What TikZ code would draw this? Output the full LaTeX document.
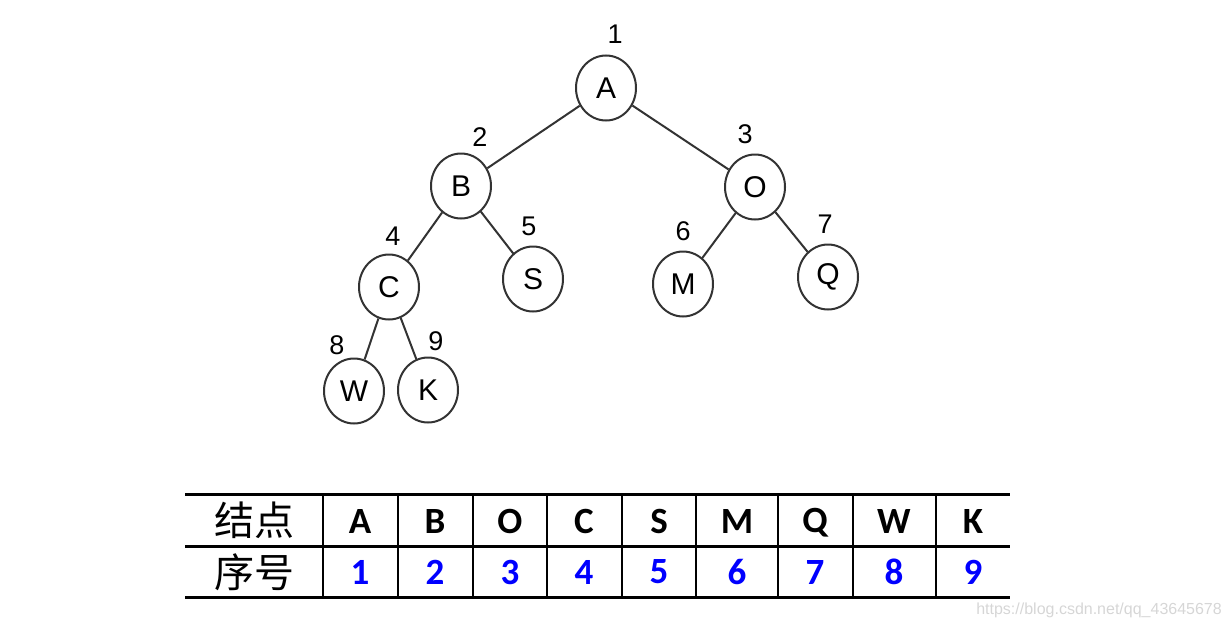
\documentclass[tikz,border=0pt]{standalone}
\usepackage{fontspec}
\setmainfont{Liberation Sans}
\newfontfamily\cjk{Noto Sans CJK SC}
\newfontfamily\tabfont{Carlito}
\usetikzlibrary{shapes.geometric}
\definecolor{edgegray}{HTML}{333333}
\definecolor{numblue}{HTML}{0000FF}
\definecolor{wmgray}{HTML}{D6D6D6}
\tikzset{
  tnode/.style={ellipse,draw=edgegray,line width=2pt,minimum width=60pt,minimum height=65pt,inner sep=0pt,font=\fontsize{30}{34}\selectfont},
  tlabel/.style={inner sep=0pt,font=\fontsize{27}{30}\selectfont},
  tedge/.style={draw=edgegray,line width=2pt},
  hdr/.style={inner sep=0pt,font=\tabfont\bfseries\fontsize{37}{40}\selectfont},
  num/.style={inner sep=0pt,text=numblue,font=\tabfont\bfseries\fontsize{37}{40}\selectfont},
  cjkcell/.style={inner sep=0pt,font=\cjk\fontsize{40}{44}\selectfont},
  hline/.style={line width=3pt,black},
  vline/.style={line width=2.5pt,black}
}
\begin{document}
\begin{tikzpicture}[x=1pt,y=-1pt]
\useasboundingbox (0,0) rectangle (1231,629);
% tree nodes
\node[tnode] (A) at (606,88) {A};
\node[tnode] (B) at (461,186) {B};
\node[tnode] (O) at (755,187) {O};
\node[tnode] (C) at (389,287) {C};
\node[tnode] (S) at (533,279) {S};
\node[tnode] (M) at (683,284) {M};
\node[tnode] (Q) at (828,277) {Q};
\node[tnode] (W) at (354,391) {W};
\node[tnode] (K) at (428,390) {K};
% labels
\node[tlabel] (l1) at (615,34) {1};
\node[tlabel] (l2) at (480,137) {2};
\node[tlabel] (l3) at (745,134) {3};
\node[tlabel] (l4) at (393,236) {4};
\node[tlabel] (l5) at (529,226) {5};
\node[tlabel] (l6) at (683,231) {6};
\node[tlabel] (l7) at (825,224) {7};
\node[tlabel] (l8) at (337,345) {8};
\node[tlabel] (l9) at (436,341) {9};
% edges
\draw[tedge] (A) -- (B);
\draw[tedge] (A) -- (O);
\draw[tedge] (B) -- (C);
\draw[tedge] (B) -- (S);
\draw[tedge] (O) -- (M);
\draw[tedge] (O) -- (Q);
\draw[tedge] (C) -- (W);
\draw[tedge] (C) -- (K);
% table lines
\draw[hline] (185,494) -- (1010,494);
\draw[hline] (185,546) -- (1010,546);
\draw[hline] (185,597) -- (1010,597);
\foreach \x in {323,398,473,547,622,696,778,853,936}
  \draw[vline] (\x,494) -- (\x,597);
% table text
\node[cjkcell] (h0) at (254,520) {结点};
\node[cjkcell] (n0) at (254,572) {序号};
\node[hdr] (hA) at (360,521) {A};
\node[hdr] (hB) at (435,521) {B};
\node[hdr] (hO) at (510,521) {O};
\node[hdr] (hC) at (584,521) {C};
\node[hdr] (hS) at (659,521) {S};
\node[hdr] (hM) at (737,521) {M};
\node[hdr] (hQ) at (815,523) {Q};
\node[hdr] (hW) at (894,521) {W};
\node[hdr] (hK) at (973,521) {K};
\node[num] (n1) at (360,572) {1};
\node[num] (n2) at (435,572) {2};
\node[num] (n3) at (510,572) {3};
\node[num] (n4) at (584,572) {4};
\node[num] (n5) at (659,572) {5};
\node[num] (n6) at (737,572) {6};
\node[num] (n7) at (815,572) {7};
\node[num] (n8) at (894,572) {8};
\node[num] (n9) at (973,572) {9};
% watermark
\node[inner sep=0pt,text=wmgray,font=\fontsize{16}{18}\selectfont,anchor=east] (wm) at (1222,610) {https://blog.csdn.net/qq\_43645678};
\end{tikzpicture}
\end{document}
